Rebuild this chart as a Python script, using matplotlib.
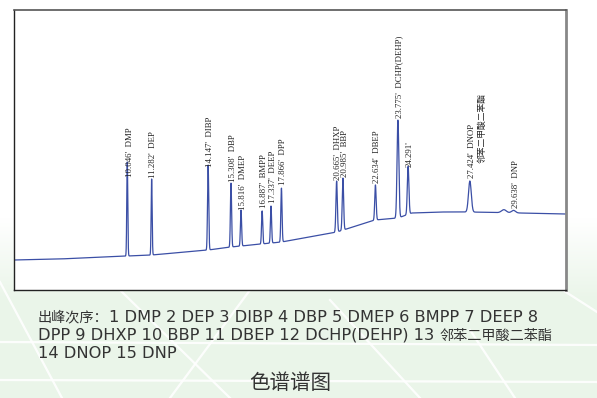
import numpy as np
import matplotlib.pyplot as plt
from matplotlib.offsetbox import TextArea, HPacker, AnnotationBbox

plt.rcParams['font.family'] = ['Noto Sans CJK SC', 'DejaVu Sans']

# retention time (min) and height above baseline of each peak
peak_times = [10.046, 11.282, 14.147, 15.308, 15.816, 16.887, 17.337, 17.866,
              20.665, 20.985, 22.634, 23.775, 24.291, 27.424, 29.15, 29.638]
peak_heights = [94, 76, 85, 64, 36, 33, 37, 54, 51, 52, 35, 98, 48, 31, 3, 2.5]
peak_widths = [0.025, 0.025, 0.03, 0.03, 0.03, 0.03, 0.03, 0.03,
               0.035, 0.035, 0.035, 0.045, 0.04, 0.07, 0.12, 0.1]

# drifting baseline
baseline_t = [4.3, 6.6, 10.05, 11.28, 14.15, 15.31, 17.87, 20.68, 22.61,
              23.78, 24.48, 25.9, 27.42, 29.95, 32.3]
baseline_v = [30, 31, 34, 35, 40, 43, 48, 58, 70, 72, 77, 78, 78, 77, 76]

# peak annotations
label_times = [10.046, 11.282, 14.147, 15.308, 15.816, 16.887, 17.337, 17.866,
               20.665, 20.985, 22.634, 23.775, 24.291, 27.424, 27.424, 29.638]
label_texts = ["10.046'  DMP", "11.282'  DEP", "14.147'  DIBP", "15.308'  DBP",
               "15.816'  DMEP", "16.887'  BMPP", "17.337'  DEEP", "17.866'  DPP",
               "20.665'  DHXP", "20.985'  BBP", "22.634'  DBEP",
               "23.775'  DCHP(DEHP)", "24.291'", "27.424'  DNOP",
               "邻苯二甲酸二苯酯", "29.638'  DNP"]
label_y = [113, 112, 123, 108, 80, 82, 87, 105, 110, 113, 107, 172, 123, 112, 127, 82]
label_dx = [0.15, 0.08, 0.1, 0.1, 0.1, 0.08, 0.1, 0.08, 0.08, 0.1, 0.1, 0.06, 0.1, 0.1, 0.6, 0.12]

legend_lines = ["出峰次序：1 DMP 2 DEP 3 DIBP 4 DBP 5 DMEP 6 BMPP 7 DEEP 8",
                "DPP 9 DHXP 10 BBP 11 DBEP 12 DCHP(DEHP) 13 邻苯二甲酸二苯酯",
                "14 DNOP 15 DNP"]
caption = "色谱谱图"

W, H = 597, 398
fig = plt.figure(figsize=(W / 100, H / 100), dpi=100)
fig.patch.set_facecolor("white")

# background: white fading to pale green with light diagonal streaks
bg = fig.add_axes([0, 0, 1, 1], zorder=-10)
rows = np.linspace(0, 1, 200)
fade = np.clip((rows - 0.55) / 0.2, 0, 1)
top = np.array([1.0, 1.0, 1.0])
green = np.array([0.92, 0.962, 0.915])
grad = top[None, :] * (1 - fade[:, None]) + green[None, :] * fade[:, None]
grad = np.repeat(grad[:, None, :], 2, axis=1)
bg.imshow(grad, extent=(0, W, H, 0), aspect="auto")
for x0, y0, x1, y1 in [(0, 282, 62, 398), (120, 290, 230, 398), (330, 300, 420, 398),
                       (505, 253, 597, 312), (470, 330, 515, 398), (0, 342, 597, 345),
                       (0, 380, 597, 382), (250, 290, 170, 398)]:
    bg.plot([x0, x1], [y0, y1], color="white", lw=1.6, alpha=0.9)
bg.set_xlim(0, W)
bg.set_ylim(H, 0)
bg.axis("off")

# chromatogram panel
ax = fig.add_axes([14 / W, (H - 290) / H, (566 - 14) / W, 280 / H])
ax.set_facecolor("white")
t = np.linspace(4.3, 32.3, 6000)
signal = np.interp(t, baseline_t, baseline_v)
for tc, h, w in zip(peak_times, peak_heights, peak_widths):
    signal = signal + h * np.exp(-0.5 * ((t - tc) / w) ** 2)
ax.plot(t, signal, color="#3b4fa6", lw=0.9)


def is_cjk(c):
    return ord(c) > 0x2E80


for tx, txt, ly, dx in zip(label_times, label_texts, label_y, label_dx):
    fam = ["Noto Sans CJK SC"] if any(is_cjk(c) for c in txt) else ["Liberation Serif"]
    ax.text(tx + dx, ly, txt, rotation=90, ha="center", va="bottom",
            fontsize=6.3, family=fam, color="#222222")

ax.set_xlim(4.3, 32.3)
ax.set_ylim(0, 280)
ax.set_xticks([])
ax.set_yticks([])
for side in ["left", "bottom"]:
    ax.spines[side].set_color("#222222")
    ax.spines[side].set_linewidth(1.0)
ax.spines["top"].set_color("#555555")
ax.spines["top"].set_linewidth(1.2)
ax.spines["right"].set_color("#888888")
ax.spines["right"].set_linewidth(2.0)

# legend text: latin runs a bit larger than the CJK runs, as in the original
latin_props = dict(fontsize=11.7, family=["DejaVu Sans"], color="#333333")
cjk_props = dict(fontsize=10.2, family=["Noto Sans CJK SC"], color="#333333")
for i, line in enumerate(legend_lines):
    runs = []
    for c in line:
        if runs and is_cjk(c) == is_cjk(runs[-1][-1]):
            runs[-1] += c
        else:
            runs.append(c)
    boxes = [TextArea(r, textprops=cjk_props if is_cjk(r[0]) else latin_props) for r in runs]
    pack = HPacker(children=boxes, align="baseline", pad=0, sep=0)
    ab = AnnotationBbox(pack, (38, 317 + 18.5 * i), xycoords="data", box_alignment=(0, 0.5),
                        frameon=False, pad=0, annotation_clip=False)
    bg.add_artist(ab)

fig.text(290 / W, 1 - 383 / H, caption, ha="center", va="center",
         fontsize=14.8, color="#333333")

fig.savefig("out.png", dpi=100)
